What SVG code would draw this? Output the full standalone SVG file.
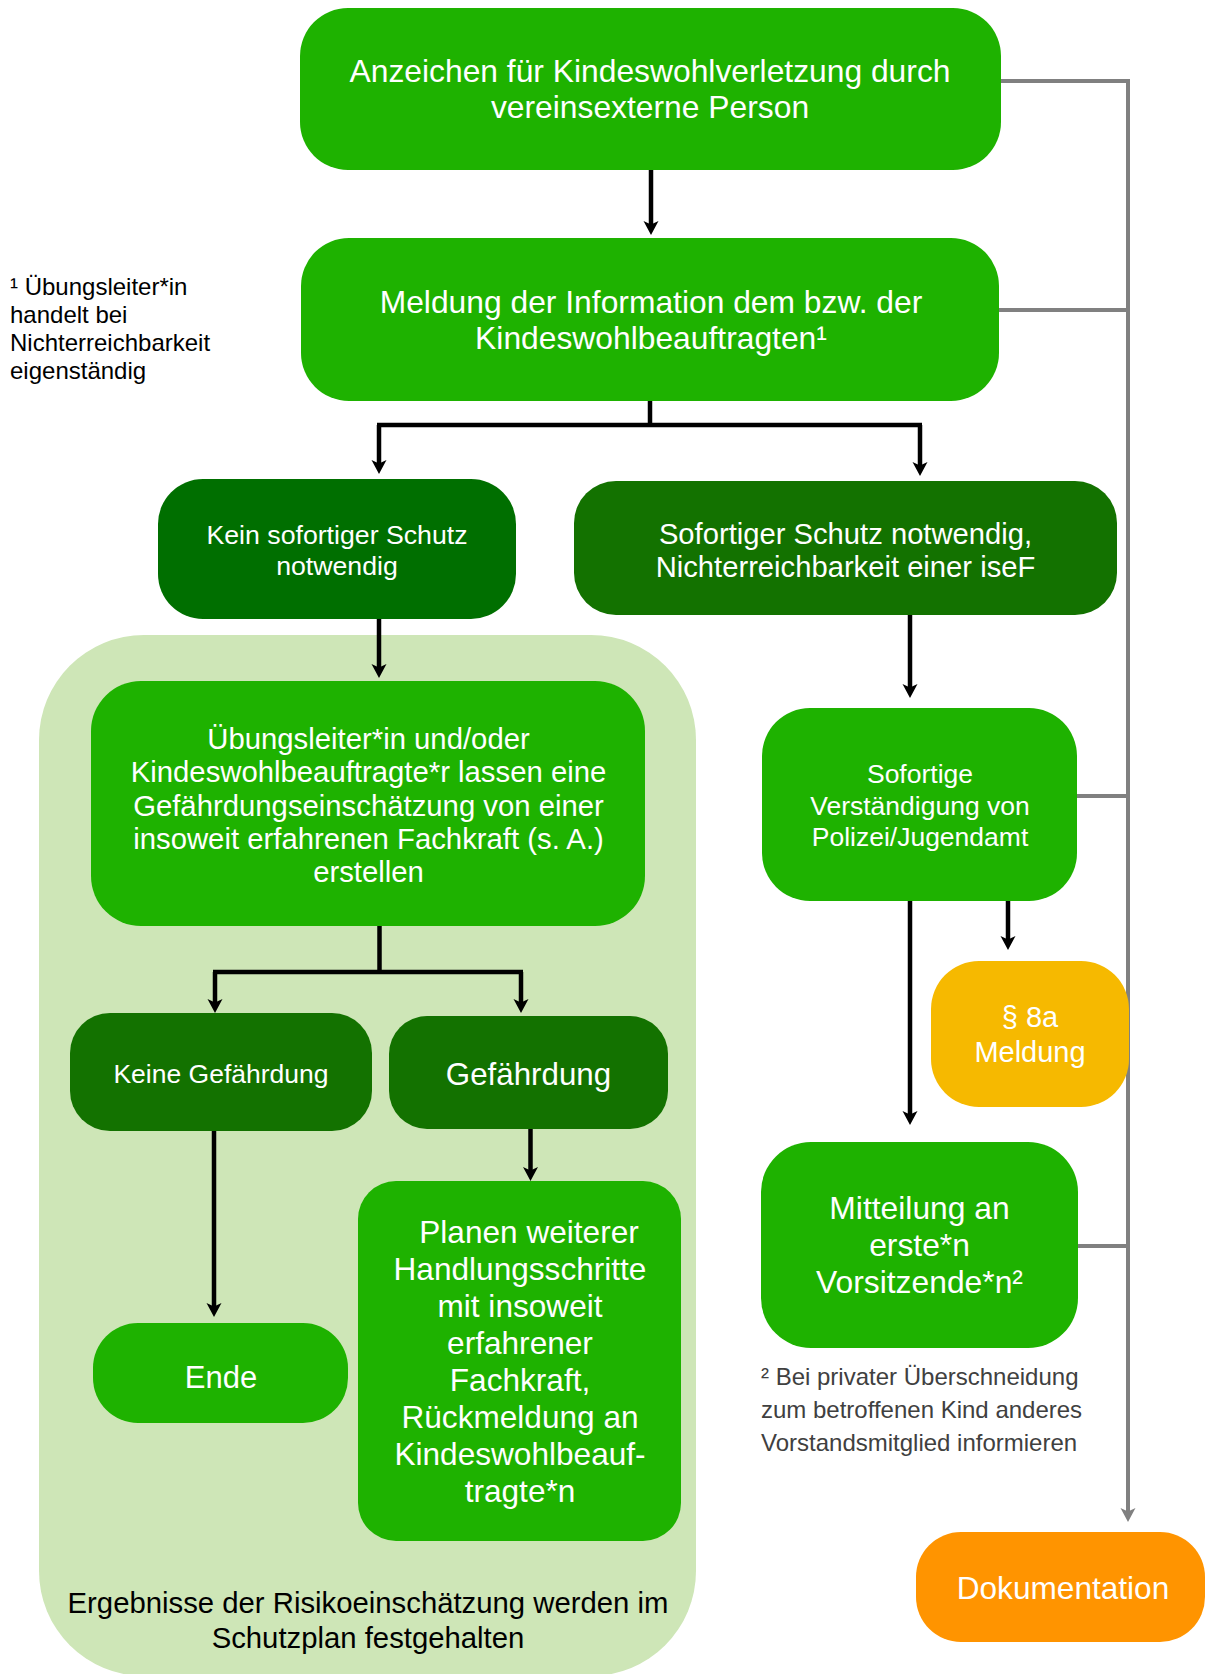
<svg xmlns="http://www.w3.org/2000/svg" width="1205" height="1674" viewBox="0 0 1205 1674">
<defs>
<style>
.t{font-family:"Liberation Sans",Arial,sans-serif;fill:#fff;text-anchor:middle}
.b{fill:#1eb200}
.d1{fill:#006f00}
.d2{fill:#137200}
.k{stroke:#000;stroke-width:4.5;fill:none}
.ka{stroke:#000;stroke-width:4.5;fill:none;marker-end:url(#ah)}
.g{stroke:#808080;stroke-width:4;fill:none}
.note{font-family:"Liberation Sans",Arial,sans-serif;font-size:24px}
</style>
<marker id="ah" markerUnits="userSpaceOnUse" markerWidth="17" markerHeight="17" refX="8" refY="8.5" orient="auto">
<path d="M1,1 L15,8.5 L1,16 L4.5,8.5 Z" fill="#000"/>
</marker>
<marker id="ag" markerUnits="userSpaceOnUse" markerWidth="17" markerHeight="17" refX="8" refY="8.5" orient="auto">
<path d="M1,1 L15,8.5 L1,16 L4.5,8.5 Z" fill="#808080"/>
</marker>
</defs>
<rect width="1205" height="1674" fill="#fff"/>

<g id="container">
<rect x="39" y="635" width="657" height="1041" rx="105" fill="#cee6b7"/>
<text class="t" x="368" y="1613" font-size="29.3" style="fill:#000">Ergebnisse der Risikoeinschätzung werden im</text>
<text class="t" x="368" y="1648" font-size="29.3" style="fill:#000">Schutzplan festgehalten</text>
</g>

<g id="connectors">
<path class="ka" d="M651,170 V228"/>
<path class="k" d="M650,401 V425"/>
<path class="k" d="M377,425 H922"/>
<path class="ka" d="M379,425 V467"/>
<path class="ka" d="M920,425 V469"/>
<path class="ka" d="M379,619 V671"/>
<path class="ka" d="M910,615 V691"/>
<path class="ka" d="M1008,901 V943"/>
<path class="ka" d="M910,901 V1118"/>
<path class="k" d="M379.5,926 V972"/>
<path class="k" d="M213,972 H523"/>
<path class="ka" d="M215,972 V1006"/>
<path class="ka" d="M521,972 V1006"/>
<path class="ka" d="M214,1131 V1310"/>
<path class="ka" d="M530.5,1129 V1174"/>
<path class="g" d="M1001,81 H1128 V1515" style="marker-end:url(#ag)"/>
<path class="g" d="M999,310 H1128"/>
<path class="g" d="M1077,796 H1128"/>
<path class="g" d="M1078,1246 H1128"/>
</g>

<g id="n-anzeichen">
<rect class="b" x="300" y="8" width="701" height="162" rx="48"/>
<text class="t" x="650" y="82" font-size="31.8">Anzeichen für Kindeswohlverletzung durch</text>
<text class="t" x="650" y="118" font-size="31.8">vereinsexterne Person</text>
</g>

<g id="n-meldung">
<rect class="b" x="301" y="238" width="698" height="163" rx="48"/>
<text class="t" x="651" y="313" font-size="31.8">Meldung der Information dem bzw. der</text>
<text class="t" x="651" y="348.5" font-size="31.8">Kindeswohlbeauftragten¹</text>
</g>

<g id="note1">
<text class="note" x="10" y="295">¹ Übungsleiter*in</text>
<text class="note" x="10" y="323">handelt bei</text>
<text class="note" x="10" y="351">Nichterreichbarkeit</text>
<text class="note" x="10" y="378.5">eigenständig</text>
</g>

<g id="n-kein">
<rect class="d1" x="158" y="479" width="358" height="140" rx="45"/>
<text class="t" x="337" y="544" font-size="26.7">Kein sofortiger Schutz</text>
<text class="t" x="337" y="575" font-size="26.7">notwendig</text>
</g>

<g id="n-sofortiger">
<rect class="d2" x="574" y="481" width="543" height="134" rx="42"/>
<text class="t" x="845.5" y="544" font-size="29.2">Sofortiger Schutz notwendig,</text>
<text class="t" x="845.5" y="577" font-size="29.2">Nichterreichbarkeit einer iseF</text>
</g>

<g id="n-uebungsleiter">
<rect class="b" x="91" y="681" width="554" height="245" rx="50"/>
<text class="t" x="368.5" y="749" font-size="29.3">Übungsleiter*in und/oder</text>
<text class="t" x="368.5" y="782" font-size="29.3">Kindeswohlbeauftragte*r lassen eine</text>
<text class="t" x="368.5" y="815.5" font-size="29.3">Gefährdungseinschätzung von einer</text>
<text class="t" x="368.5" y="849" font-size="29.3">insoweit erfahrenen Fachkraft (s. A.)</text>
<text class="t" x="368.5" y="882" font-size="29.3">erstellen</text>
</g>

<g id="n-keine">
<rect class="d2" x="70" y="1013" width="302" height="118" rx="40"/>
<text class="t" x="221" y="1083" font-size="26.5">Keine Gefährdung</text>
</g>

<g id="n-gefaehrdung">
<rect class="d2" x="389" y="1016" width="279" height="113" rx="38"/>
<text class="t" x="528.5" y="1085" font-size="31.3">Gefährdung</text>
</g>

<g id="n-ende">
<rect class="b" x="93" y="1323" width="255" height="100" rx="45"/>
<text class="t" x="221" y="1388" font-size="31">Ende</text>
</g>

<g id="n-planen">
<rect class="b" x="358" y="1181" width="323" height="360" rx="38"/>
<text class="t" x="529" y="1243" font-size="31.6">Planen weiterer</text>
<text class="t" x="520" y="1280" font-size="31.6">Handlungsschritte</text>
<text class="t" x="520" y="1317" font-size="31.6">mit insoweit</text>
<text class="t" x="520" y="1354" font-size="31.6">erfahrener</text>
<text class="t" x="520" y="1391" font-size="31.6">Fachkraft,</text>
<text class="t" x="520" y="1428" font-size="31.6">Rückmeldung an</text>
<text class="t" x="520" y="1465" font-size="31.6">Kindeswohlbeauf-</text>
<text class="t" x="520" y="1502" font-size="31.6">tragte*n</text>
</g>

<g id="n-verstaendigung">
<rect class="b" x="762" y="708" width="315" height="193" rx="48"/>
<text class="t" x="920" y="783" font-size="26.5">Sofortige</text>
<text class="t" x="920" y="815" font-size="26.5">Verständigung von</text>
<text class="t" x="920" y="846" font-size="26.5">Polizei/Jugendamt</text>
</g>

<g id="n-8a">
<rect x="931" y="961" width="198" height="146" rx="48" fill="#f6b900"/>
<text class="t" x="1030" y="1027" font-size="29">§ 8a</text>
<text class="t" x="1030" y="1062" font-size="29">Meldung</text>
</g>

<g id="n-mitteilung">
<rect class="b" x="761" y="1142" width="317" height="206" rx="50"/>
<text class="t" x="919.5" y="1219" font-size="31.8">Mitteilung an</text>
<text class="t" x="919.5" y="1256" font-size="31.8">erste*n</text>
<text class="t" x="919.5" y="1293" font-size="31.8">Vorsitzende*n²</text>
</g>

<g id="note2">
<text class="note" x="761" y="1385" fill="#404040">² Bei privater Überschneidung</text>
<text class="note" x="761" y="1418" fill="#404040">zum betroffenen Kind anderes</text>
<text class="note" x="761" y="1451" fill="#404040">Vorstandsmitglied informieren</text>
</g>

<g id="n-dokumentation">
<rect x="916" y="1532" width="289" height="110" rx="45" fill="#ff9400"/>
<text class="t" x="1063" y="1599" font-size="31.6">Dokumentation</text>
</g>
</svg>
